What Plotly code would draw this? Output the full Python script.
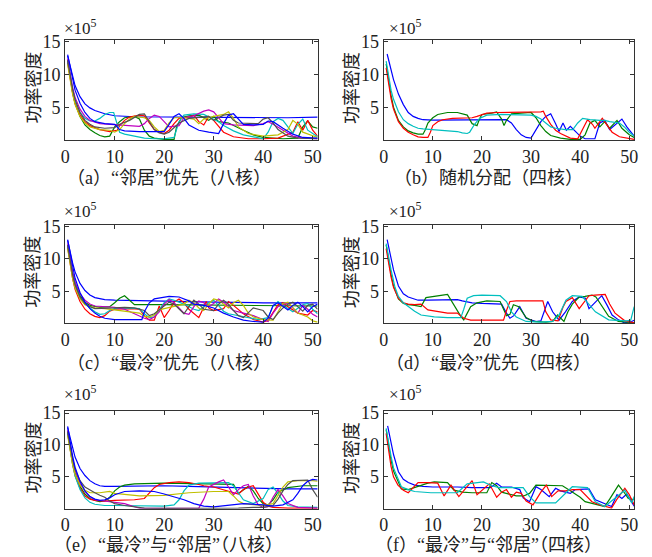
import plotly.graph_objects as go

W, H = 652, 557

# ---------------- data (units of 1e5) ----------------
# Panel (a) "邻居"优先(八核)
a_blue1 = [(0.5,12.8),(1,11.2),(1.5,9.6),(2,8.3),(3,6.6),(4,5.5),(5,4.9),(6,4.5),(8,4.0),(10,3.7),(14,3.55),(20,3.5),(30,3.45),(40,3.4),(45,3.4),(51,3.5)]
a_green = [(0.5,12.2),(1,9.5),(1.5,7.3),(2,5.6),(3,3.6),(4,2.3),(5,1.6),(6,1.1),(7,0.7),(8,0.5),(9,0.6),(10,2.0),(11,2.8),(12,3.4),(14,3.6),(15,3.2),(16,1.5),(17,0.6),(18,0.3),(20,0.1),(22,0.1),(22.5,2.0),(23.5,3.4),(25,3.7),(27,3.8),(29,3.0),(30,3.6),(31,2.8),(33,2.6),(36,1.5),(38,0.8),(40,0.4),(44,0.2),(47,0.3),(48,2.0),(49,2.9),(50,2.0),(51,1.8)]
a_red = [(0.5,11.8),(1,9.3),(1.5,7.2),(2,5.6),(3,3.8),(4,2.8),(5,2.2),(7,1.6),(9,1.3),(10.5,1.5),(11,2.2),(12,3.0),(13,3.5),(15,3.8),(16,3.7),(17,2.6),(18,1.6),(19,1.2),(20,1.0),(21,1.5),(22,2.5),(23,3.3),(25,3.5),(26,3.8),(27,2.8),(28,2.3),(29,3.6),(30,3.0),(32,1.2),(34,0.5),(37,0.2),(40,0.2),(43,0.3),(46,1.2),(47,2.8),(48,1.5),(49,3.0),(50,1.5),(51,0.6)]
a_cyan = [(0.5,12.0),(1,9.6),(1.5,7.6),(2,6.0),(3,4.2),(4,3.3),(5,2.9),(6,2.9),(7,3.3),(8,3.9),(9,4.2),(9.8,4.2),(10.5,2.5),(11,1.2),(12,0.9),(14,0.6),(16,0.3),(18,0.2),(20,0.2),(22,0.4),(23,2.8),(24,3.8),(26,4.0),(28,3.9),(30,3.2),(31,2.8),(32,2.2),(34,1.4),(36,0.8),(38,0.5),(40,0.2),(41,1.2),(42,2.8),(43,3.3),(44,3.0),(45,2.0),(46,1.0),(47,2.4),(48,3.2),(49,1.5),(51,0.5)]
a_magenta = [(0.5,12.4),(1,10),(1.5,8),(2,6.5),(3,4.7),(4,3.6),(5,3.0),(7,2.5),(9,2.4),(11,2.4),(13,2.3),(15,2.1),(16,2.5),(17,3.3),(18,3.8),(19,3.6),(20,2.8),(21,2.0),(23,2.2),(24,3.4),(26,3.7),(28,4.4),(29,4.6),(30,4.3),(31,3.4),(32,2.5),(34,2.3),(36,2.2),(38,2.2),(40,2.5),(41,2.8),(42,2.4),(44,1.5),(46,0.6),(48,0.3),(51,0.2)]
a_yellow = [(0.5,11.5),(1,9.0),(1.5,7.0),(2,5.4),(3,3.6),(4,2.6),(5,2.0),(7,1.6),(9,1.5),(10,1.2),(11,1.6),(12,2.5),(13,3.2),(14,3.6),(16,3.4),(17,3.0),(18,2.0),(19,1.3),(20,1.5),(21,2.6),(22,3.4),(24,3.4),(26,3.2),(27,2.5),(28,3.2),(30,3.6),(32,3.9),(33,4.3),(34,3.3),(35,2.0),(37,1.0),(40,0.6),(43,0.8),(45,1.6),(46,3.0),(47,2.4),(48,1.2),(51,0.4)]
a_gray = [(0.5,12.1),(1,9.8),(1.5,7.8),(2,6.2),(3,4.2),(4,3.0),(5,2.4),(6,2.0),(8,1.8),(10,1.9),(11,2.4),(13,3.0),(15,3.9),(16,4.0),(17,2.8),(18,1.6),(19,1.1),(20,0.9),(21,1.2),(23,2.6),(25,3.3),(27,3.5),(29,3.6),(30,3.0),(31,3.4),(32,3.8),(33,3.9),(34,3.0),(35,2.6),(37,2.5),(39,2.5),(40,3.2),(41,3.4),(42,2.6),(43,1.6),(45,0.6),(47,0.3),(51,0.2)]
a_blue2 = [(0.5,13.0),(1,11),(1.5,9.2),(2,7.6),(3,5.6),(4,4.2),(5,3.3),(6,2.8),(8,2.5),(10,2.4),(11,1.6),(12,1.4),(15,1.3),(18,1.3),(20,1.3),(21,2.4),(22,3.6),(23,4.0),(24,3.3),(25,2.3),(27,1.5),(29,1.2),(31,1.0),(32,2.5),(33,3.8),(34,4.0),(35,3.2),(36,2.4),(38,2.3),(40,2.4),(41,2.9),(42,2.8),(44,1.8),(46,0.9),(48,0.4),(51,0.3)]

# Panel (b) 随机分配(四核)
b_blue = [(0.7,13.1),(1.5,10.6),(2,9.2),(3,7.0),(4,5.4),(5,4.2),(6,3.6),(7,3.3),(8,3.1),(10,3.05),(15,3.1),(20,3.1),(25,3.1),(26,2.6),(27,1.6),(28,0.8),(29,0.4),(30,0.3),(31,1.5),(32,2.8),(33,3.6),(34,4.0),(35,2.5),(35.7,1.3),(36.5,2.6),(37.2,1.5),(38,2.1),(39,1.3),(40,0.6),(41,0.2),(43,0.2),(44,2.6),(45,3.0),(46,1.6),(47,2.3),(48,3.0),(48.5,3.2),(49.5,2.0),(50.5,1.0),(51,0.6)]
b_green = [(0.5,11.6),(1,9.0),(1.5,6.8),(2,5.0),(3,3.0),(4,2.0),(5,1.4),(6,1.1),(7,0.9),(8,0.9),(8.5,1.6),(9,2.6),(10,3.4),(11,3.9),(12,4.1),(13,4.2),(15,4.2),(16,4.0),(17,3.8),(18,2.5),(19,2.2),(19.5,3.2),(20,3.9),(22,4.1),(23,4.3),(24,3.2),(24.5,2.2),(25,3.0),(26,4.0),(28,4.1),(30,4.2),(31,3.4),(32,2.2),(33,1.3),(34,0.7),(36,0.3),(38,0.1),(40,0.1),(41,0.8),(42,2.6),(43,3.0),(44,2.0),(45,2.8),(46,1.8),(47,2.6),(47.5,3.0),(48.5,1.8),(50,0.8),(51,0.4)]
b_red = [(0.5,11.0),(1,8.4),(1.5,6.3),(2,4.7),(3,2.8),(4,1.8),(5,1.2),(6,0.8),(7,0.5),(8,0.4),(9,0.4),(9.5,1.2),(10,2.2),(11,2.8),(12,3.1),(14,3.3),(16,3.35),(18,3.4),(19,3.6),(20,3.9),(21,4.1),(23,4.2),(26,4.2),(30,4.2),(32,4.3),(32.5,4.4),(33,3.6),(34,2.4),(35,1.5),(36,1.0),(37,0.6),(38,0.3),(39.5,0.2),(40.5,1.6),(41.5,3.1),(42.5,2.4),(43,1.8),(44.5,3.3),(45.5,2.2),(46.5,1.2),(48,0.5),(50,0.2),(51,0.1)]
b_cyan = [(0.5,12.0),(1,9.6),(1.5,7.6),(2,6.2),(3,4.3),(4,3.1),(5,2.5),(6,2.1),(7,1.8),(8,1.7),(10,1.6),(13,1.5),(15,1.3),(16,1.1),(17,1.0),(17.5,1.2),(18.5,2.4),(19.5,3.3),(21,3.8),(24,3.9),(27,3.9),(30,3.8),(31,3.6),(32,3.2),(33,2.6),(34,2.0),(35,1.8),(37,1.6),(38.5,1.6),(39.5,2.6),(40.5,3.3),(42,3.1),(44,3.0),(45,3.0),(46,2.8),(47,2.7),(48,2.6),(49,2.0),(50,1.2),(51,0.6)]

# Panel (c) "最冷"优先(八核)
c_blue1 = [(0.5,12.9),(1,11),(1.5,9.4),(2,8.0),(3,6.2),(4,5.1),(5,4.4),(6,4.0),(8,3.7),(10,3.6),(15,3.5),(20,3.4),(30,3.3),(40,3.2),(51,3.2)]
c_green = [(0.5,12.2),(1,9.8),(1.5,7.8),(2,6.2),(3,4.3),(4,3.3),(5,2.8),(7,2.5),(9,2.6),(10,3.2),(11,3.9),(12,4.3),(13,3.6),(14,2.9),(20,2.9),(30,2.8),(40,2.7),(51,2.7)]
c_red = [(0.5,11.8),(1,9.2),(1.5,7.0),(2,5.3),(3,3.4),(4,2.2),(5,1.5),(6,1.1),(7,0.9),(8,1.2),(9,1.9),(10,2.2),(13,2.3),(15,2.2),(16,1.2),(17,0.5),(18,0.5),(19,2.7),(19.5,1.8),(20,0.9),(21,2.0),(22,3.3),(23,3.8),(24,3.2),(25,2.2),(26,1.6),(27,0.9),(28,2.5),(28.5,3.4),(29,2.4),(30,2.0),(32,2.3),(33,3.4),(34,2.8),(36,1.5),(38,0.6),(40,0.2),(41,0.5),(42,1.8),(43,2.9),(44,3.2),(45,2.6),(47,1.6),(49,1.3),(50,2.0),(51,1.8)]
c_cyan = [(0.5,12.0),(1,9.5),(1.5,7.5),(2,5.9),(3,4.0),(4,3.0),(5,2.4),(6,1.8),(7,1.4),(8,1.5),(9,2.0),(10,2.3),(12,2.4),(15,2.3),(16,1.5),(17,0.9),(18,1.0),(19,2.2),(20,3.2),(21,3.8),(22,3.6),(24,3.0),(26,2.2),(27,2.0),(29,3.2),(30,3.6),(31,2.8),(32,1.9),(33,1.5),(35,1.2),(37,0.8),(39,0.6),(41,0.9),(42,2.7),(43,3.4),(44,2.8),(46,1.8),(48,2.9),(49,3.1),(50,2.2),(51,1.5)]
c_magenta = [(0.5,12.4),(1,10),(1.5,8.0),(2,6.4),(3,4.6),(4,3.6),(5,3.0),(6,2.7),(8,2.6),(10,2.5),(12,2.2),(14,1.5),(16,0.8),(17,0.6),(18,1.0),(19,1.8),(20,3.0),(21,3.7),(22,3.2),(23,2.4),(24,1.6),(25,1.4),(26,2.6),(27,3.5),(28,3.2),(29,2.6),(30,3.1),(31,3.8),(32,3.3),(33,2.6),(34,2.0),(36,1.6),(38,1.2),(40,0.6),(41,0.3),(42,1.6),(43,2.6),(45,3.2),(46,2.4),(47,1.6),(48,2.8),(49,2.2),(50,1.4),(51,1.0)]
c_yellow = [(0.5,11.6),(1,9.0),(1.5,7.0),(2,5.5),(3,3.8),(4,2.9),(5,2.6),(6,2.4),(8,2.3),(10,2.1),(13,1.9),(15,1.6),(16,1.1),(17,1.0),(18,1.3),(19,2.1),(20,2.3),(22,2.6),(24,3.0),(25,3.6),(26,3.2),(27,2.4),(28,2.0),(29,3.0),(30,3.8),(31,3.6),(32,3.0),(33,2.4),(34,3.2),(35,3.6),(36,2.8),(37,1.6),(38,1.0),(40,0.6),(42,0.5),(43,1.8),(44,3.1),(45,3.3),(46,2.5),(47,1.6),(49,1.0),(50,0.4),(51,0.2)]
c_gray = [(0.5,12.1),(1,9.7),(1.5,7.6),(2,6.0),(3,4.1),(4,3.1),(5,2.6),(6,2.3),(8,2.3),(10,2.4),(12,2.5),(14,2.4),(16,2.0),(17,1.2),(18,1.5),(20,2.8),(21,3.3),(22,3.0),(23,2.2),(24,1.5),(25,2.6),(26,3.6),(27,3.0),(28,2.2),(30,2.0),(31,3.0),(32,3.6),(33,3.0),(34,2.0),(35,1.2),(36,0.9),(37,1.7),(38,2.4),(40,2.0),(41,1.0),(42,0.6),(43,1.6),(44,2.4),(45,3.0),(46,3.3),(47,2.6),(48,1.9),(49,2.8),(50,3.0),(51,2.2)]
c_blue2 = [(0.5,13.0),(1,10.8),(1.5,8.8),(2,7.0),(3,4.8),(4,3.3),(5,2.3),(6,1.6),(7,1.1),(8,0.8),(10,0.6),(12,0.6),(15.5,0.6),(16,1.8),(17,3.2),(18,3.8),(20,4.1),(21,4.2),(23,4.1),(24,3.8),(25,3.5),(26,3.0),(28,2.8),(30,2.4),(32,1.6),(34,1.0),(36,0.5),(38,0.3),(40,0.2),(41,0.8),(42,2.8),(43,3.2),(44,2.6),(45,2.1),(46,2.8),(47,3.3),(48,2.6),(49,1.8),(50,2.6),(51,3.0)]

# Panel (d) "最冷"优先(四核)
d_blue = [(0.7,13.0),(1.5,10.2),(2,8.3),(3,5.8),(4,4.6),(5,4.1),(6,3.8),(7,3.6),(9,3.6),(12,3.7),(15,3.7),(16,3.5),(18,3.2),(20,3.1),(23,3.1),(24,3.0),(25,1.6),(25.7,0.8),(26.5,1.2),(27.7,2.6),(29,0.8),(31,0.3),(32,0.4),(33.4,3.4),(34.4,1.8),(35.7,0.5),(37,1.8),(38.4,3.4),(39.8,4.1),(41.1,3.9),(41.8,2.3),(43,3.2),(44.4,4.3),(45.5,2.8),(46.5,1.3),(47.8,0.55),(49,0.1),(50.5,0.3),(51,0.5)]
d_green = [(0.5,12.2),(1,9.8),(1.5,7.6),(2,5.8),(3,3.8),(4,3.1),(5,2.9),(6.3,2.8),(7.6,2.6),(8.6,4.0),(10,4.2),(12,4.4),(13,4.5),(14,3.2),(15.7,1.1),(16.3,0.55),(17,1.6),(17.7,2.6),(19,3.2),(21,3.5),(23.7,3.4),(25,1.2),(25.7,1.4),(26.4,2.9),(27.5,2.6),(29,0.9),(30.4,0.3),(33,0.2),(34.4,0.3),(35.4,1.3),(36.7,0.3),(37.5,1.8),(38.4,3.0),(39.8,4.1),(41,4.2),(42.4,4.4),(43.2,4.1),(44.5,2.6),(45.8,1.1),(47.8,0.3),(50,0.1),(51,0.1)]
d_red = [(0.5,11.6),(1,9.2),(1.5,7.2),(2,5.6),(3,3.9),(4,3.2),(5,3.0),(6.3,2.9),(7.6,3.0),(9,2.1),(11,1.8),(13,1.6),(15,1.6),(16.3,0.8),(17.7,0.5),(20,0.5),(24.4,0.5),(25,2.0),(25.7,3.4),(27,3.5),(30,3.5),(32.4,3.5),(33,1.8),(34,0.55),(35.5,0.4),(36.5,2.5),(37.1,3.4),(38.4,4.0),(39.8,2.3),(41,3.6),(41.8,4.3),(43,4.4),(45.1,4.5),(46,3.0),(47.1,1.6),(49.1,0.4),(51,0.1)]
d_cyan = [(0.5,12.4),(1,10.2),(1.5,8.3),(2.3,5.6),(3,4.2),(4,3.2),(5,2.6),(6.3,1.9),(7.6,1.3),(9,1.1),(10.3,1.0),(13,0.9),(15.7,0.9),(16.3,2.2),(17,3.9),(18.3,4.3),(20,4.4),(23.7,4.3),(25,3.4),(26,1.8),(27,1.0),(29,0.3),(32,0.2),(34.4,0.3),(35.7,1.3),(37.1,3.6),(38.4,4.3),(40.4,4.2),(41.5,3.2),(43.1,1.8),(45.8,0.55),(48,0.5),(49.5,0.4),(50.3,0.5),(51,2.6)]

# Panel (e) "最冷"与"邻居"(八核)
e_blue1 = [(0.5,12.7),(1,11),(1.5,9.4),(2,8.1),(3,6.3),(4,5.2),(5,4.4),(6,3.9),(7,3.6),(8,3.5),(10,3.5),(15,3.6),(20,3.6),(25,3.5),(30,3.4),(35,3.3),(40,3.2),(45,3.1),(51,3.1)]
e_green = [(0.5,12.2),(1,9.6),(1.5,7.4),(2,5.6),(3,3.5),(4,2.3),(5,1.6),(6,1.3),(7,1.1),(8,1.2),(9,1.8),(10,2.8),(11,3.4),(12,3.7),(14,3.9),(20,4.0),(25,3.9),(30,3.9),(34,3.8),(35,2.4),(36,3.0),(37,3.5),(38,2.8),(39,1.6),(40,0.8),(41,0.6),(42,1.4),(43,2.6),(45,3.3),(48,3.6),(51,3.6)]
e_red = [(0.5,11.8),(1,9.2),(1.5,7.0),(2,5.2),(3,3.2),(4,2.0),(5,1.5),(6,1.3),(8,1.2),(10,1.3),(12,1.3),(14,1.4),(16,1.6),(17,2.4),(18,3.3),(19,3.8),(21,4.1),(23,4.2),(25,4.1),(27,3.8),(28,3.6),(30,3.4),(32,3.0),(34,2.6),(35,2.3),(36,3.0),(37,3.4),(38,3.6),(39,2.4),(40,1.0),(41,0.4),(42,0.2),(45,0.1),(51,0.1)]
e_cyan = [(0.5,11.9),(1,9.3),(1.5,7.0),(2,5.1),(3,3.0),(4,1.7),(5,1.0),(6,0.7),(7,0.6),(8,0.5),(10,0.5),(14,0.5),(18,0.4),(20,0.4),(22,0.6),(23,1.4),(24,2.8),(25,3.7),(27,4.0),(30,4.0),(33,4.1),(34,3.6),(35,2.4),(36,1.4),(38,0.8),(40,1.6),(41,3.0),(42,3.4),(43,2.4),(44,1.2),(45,0.5),(47,0.3),(51,0.2)]
e_magenta = [(0.5,12.3),(1,9.8),(1.5,7.8),(2,6.0),(3,4.0),(4,2.7),(5,1.9),(6,1.4),(8,1.2),(10,1.1),(12,0.8),(14,0.3),(15,0.1),(20,0.05),(25,0.05),(27,0.1),(28,1.5),(29,3.4),(31,4.2),(32,4.5),(33,3.4),(34,2.2),(35,3.0),(36,3.6),(37,3.8),(38,2.0),(39,0.6),(40,0.2),(41,0.3),(42,1.8),(43,3.0),(44,2.0),(45,0.8),(47,0.2),(51,0.1)]
e_yellow = [(0.5,11.5),(1,9.0),(1.5,7.0),(2,5.4),(3,3.7),(4,2.9),(5,2.5),(7,2.5),(9,2.7),(10,2.4),(12,2.2),(15,2.0),(20,2.1),(25,2.5),(30,2.7),(33,2.7),(34,2.0),(35,1.2),(36,0.8),(38,0.6),(40,0.5),(42,0.8),(43,2.0),(44,3.4),(45,4.2),(47,4.4),(50,4.4),(51,4.3)]
e_gray = [(0.5,12.0),(1,9.8),(1.5,7.8),(2,6.2),(3,4.4),(4,3.4),(5,2.9),(6,2.5),(7,2.1),(8,1.8),(9,1.2),(10,0.8),(12,0.5),(14,0.3),(16,0.1),(20,0.05),(30,0.05),(35,0.1),(38,0.2),(40,0.2),(42,0.5),(43,1.5),(44,2.8),(45,3.8),(46,4.4),(49,4.5),(50,3.0),(51,1.8)]
e_blue2 = [(0.5,12.9),(1,10.5),(1.5,8.3),(2,6.5),(3,4.3),(4,2.8),(5,1.9),(6,1.5),(7,1.3),(8,1.4),(9,1.7),(10,2.2),(11,2.5),(12,2.7),(15,2.8),(18,2.7),(20,2.3),(22,1.9),(24,1.4),(26,0.8),(28,0.4),(30,0.3),(33,0.5),(36,0.8),(40,0.6),(42,0.4),(44,0.6),(46,1.4),(47,2.4),(48,3.6),(49,4.3),(50,4.6),(51,4.5)]

# Panel (f) "最冷"与"邻居"(四核)
f_blue = [(0.8,13.0),(1.5,10.5),(2,8.5),(3,5.8),(4,4.6),(5,4.1),(6.3,3.7),(8,3.5),(10,3.4),(15,3.4),(18,3.3),(21.7,3.3),(23,4.0),(24,3.4),(26,3.4),(27.7,3.0),(28.4,1.7),(29.7,1.1),(31,3.45),(32,3.0),(33.7,1.9),(35,3.2),(36,2.8),(37,2.6),(38,2.4),(39,3.0),(41.8,3.1),(43.1,1.4),(45.8,0.55),(46.4,0.35),(47.5,2.2),(48.5,1.6),(49.5,2.3),(51,0.4)]
f_red = [(0.5,11.8),(1,9.0),(1.5,6.6),(2,5.0),(2.9,3.7),(4,2.9),(5,2.5),(6,3.3),(7,4.1),(9,4.1),(11,4.0),(12.3,2.0),(13.7,3.7),(15.3,1.9),(16.5,3.0),(18,4.4),(19,2.2),(20.5,3.2),(21.5,3.9),(23,1.8),(24,2.6),(25,3.0),(26,1.8),(27,2.6),(28,2.4),(29,1.2),(30.4,0.6),(32,2.6),(33.1,3.7),(34.2,1.9),(35.5,2.8),(37,2.8),(38.5,3.0),(40,3.0),(41,2.2),(42.4,1.1),(44,0.6),(46.4,0.1),(47.5,1.5),(49.1,3.2),(50,2.2),(51,0.6)]
f_green = [(0.5,12.4),(1,9.8),(1.5,7.6),(2,5.9),(3,4.0),(3.6,3.1),(5,3.0),(7,3.5),(9,4.0),(10.3,4.2),(13,4.1),(14.3,2.9),(16,2.6),(18,2.5),(21,2.5),(22,4.1),(23,3.6),(24,2.6),(25,2.4),(27,2.0),(28.5,2.0),(29.7,2.4),(31,3.7),(33,3.7),(36.4,3.6),(38,2.8),(40,1.8),(41,1.1),(43,0.7),(45,0.35),(46,1.5),(47.8,3.7),(49,2.5),(49.8,1.6),(51,1.4)]
f_cyan = [(0.5,12.6),(1,10.2),(1.5,8.2),(2,6.4),(3,4.4),(3.6,3.45),(5,3.0),(6.3,2.7),(9.6,2.5),(15,2.5),(16,3.2),(17,3.9),(20.3,4.2),(22,3.6),(23.5,3.3),(26,3.3),(28.4,3.3),(29.7,1.9),(31,0.9),(35,0.9),(36.5,2.0),(38.4,3.45),(41.5,3.3),(43.1,1.1),(45,0.35),(47,1.6),(49.1,2.9),(50.5,0.9),(51,1.9)]

x_ticks = [0, 10, 20, 30, 40, 50]
y_ticks = [5, 10, 15]
y_title = "功率密度"
scale_label = "×10<sup>5</sup>"
captions = ["（a）“邻居”优先（八核）", "（b）随机分配（四核）",
            "（c）“最冷”优先（八核）", "（d）“最冷”优先（四核）",
            "（e）“最冷”与“邻居”（八核）", "（f）“最冷”与“邻居”（四核）"]

C_BLUE, C_GREEN, C_RED = "#0000FF", "#008000", "#FF0000"
C_CYAN, C_MAG, C_YEL, C_GRAY = "#00BFBF", "#BF00BF", "#BFBF00", "#505050"

panels = [
    [(a_blue1, C_BLUE), (a_green, C_GREEN), (a_red, C_RED), (a_cyan, C_CYAN),
     (a_magenta, C_MAG), (a_yellow, C_YEL), (a_gray, C_GRAY), (a_blue2, C_BLUE)],
    [(b_blue, C_BLUE), (b_green, C_GREEN), (b_red, C_RED), (b_cyan, C_CYAN)],
    [(c_blue1, C_BLUE), (c_green, C_GREEN), (c_red, C_RED), (c_cyan, C_CYAN),
     (c_magenta, C_MAG), (c_yellow, C_YEL), (c_gray, C_GRAY), (c_blue2, C_BLUE)],
    [(d_blue, C_BLUE), (d_green, C_GREEN), (d_red, C_RED), (d_cyan, C_CYAN)],
    [(e_blue1, C_BLUE), (e_green, C_GREEN), (e_red, C_RED), (e_cyan, C_CYAN),
     (e_magenta, C_MAG), (e_yellow, C_YEL), (e_gray, C_GRAY), (e_blue2, C_BLUE)],
    [(f_blue, C_BLUE), (f_green, C_GREEN), (f_red, C_RED), (f_cyan, C_CYAN)],
]

# ---------------- layout geometry (pixels) ----------------
col_x = [(61, 317), (384, 638)]
row_y = [(32, 134), (220, 320), (409, 508)]
scale_y = [19, 205, 391]
caption_y = [172, 360, 545]

def px(x):
    return x / W

def py(y):
    return 1 - y / H

SERIF = "Liberation Serif, Noto Sans CJK SC, serif"
CJK = "Noto Sans CJK SC, Liberation Serif, serif"

fig = go.Figure()
annotations = []
layout_axes = {}

for i, series in enumerate(panels):
    r, c = divmod(i, 2)
    k = i + 1
    xa = "x" if k == 1 else f"x{k}"
    ya = "y" if k == 1 else f"y{k}"
    for pts, color in series:
        fig.add_trace(go.Scatter(
            x=[p[0] for p in pts], y=[p[1] for p in pts], mode="lines",
            line=dict(color=color, width=1.2), xaxis=xa, yaxis=ya,
            hoverinfo="skip", showlegend=False))
    x0, x1 = col_x[c]
    y0, y1 = row_y[r]
    common = dict(showline=True, linecolor="#333", linewidth=1, mirror="ticks",
                  ticks="inside", ticklen=4, tickcolor="#333", showgrid=False,
                  zeroline=False, tickfont=dict(family=SERIF, size=18, color="#222"))
    layout_axes["xaxis" if k == 1 else f"xaxis{k}"] = dict(
        domain=[px(x0), px(x1)], range=[0, 51], tickvals=x_ticks,
        anchor=ya, **common)
    layout_axes["yaxis" if k == 1 else f"yaxis{k}"] = dict(
        domain=[py(y1), py(y0)], range=[0, 15.3], tickvals=y_ticks,
        anchor=xa, **common)
    # y title
    annotations.append(dict(text=y_title, textangle=-90, x=px(x0 - 34), y=py((y0 + y1) / 2 - 2),
                            xref="paper", yref="paper", showarrow=False,
                            xanchor="center", yanchor="middle",
                            font=dict(family=CJK, size=18, color="#222")))
    # scale label
    sx = x0 - 3 if c == 0 else x0 + 3
    annotations.append(dict(text=scale_label, x=px(sx), y=py(scale_y[r]),
                            xref="paper", yref="paper", showarrow=False,
                            xanchor="left", yanchor="middle",
                            font=dict(family=SERIF, size=17, color="#222")))
    # caption
    cx = 166 if c == 0 else 490
    annotations.append(dict(text=captions[i], x=px(cx), y=py(caption_y[r]),
                            xref="paper", yref="paper", showarrow=False,
                            xanchor="center", yanchor="middle",
                            font=dict(family=SERIF, size=18, color="#222")))

fig.update_layout(width=W, height=H, margin=dict(l=0, r=0, t=0, b=0),
                  paper_bgcolor="white", plot_bgcolor="white",
                  showlegend=False, annotations=annotations, **layout_axes)

fig.write_html("out.html", config={"displayModeBar": False},
               post_script="document.body.style.margin='0';document.body.style.padding='0';")
